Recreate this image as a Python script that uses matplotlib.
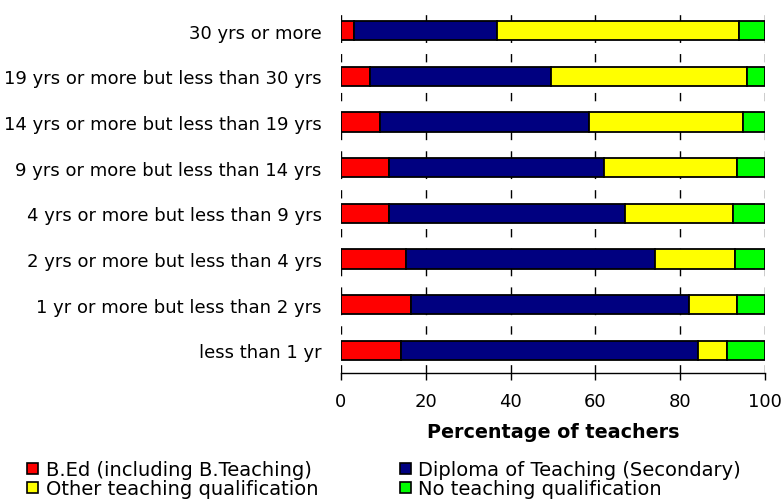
import numpy as np
import matplotlib.pyplot as plt
from matplotlib.patches import Patch

categories = [
    "less than 1 yr",
    "1 yr or more but less than 2 yrs",
    "2 yrs or more but less than 4 yrs",
    "4 yrs or more but less than 9 yrs",
    "9 yrs or more but less than 14 yrs",
    "14 yrs or more but less than 19 yrs",
    "19 yrs or more but less than 30 yrs",
    "30 yrs or more",
]
bed = [14.2, 16.4, 15.4, 11.4, 11.4, 9.3, 6.9, 3.0]
diploma = [69.9, 65.6, 58.6, 55.6, 50.7, 49.2, 42.7, 33.7]
other = [7.0, 11.3, 18.9, 25.5, 31.3, 36.2, 46.1, 57.1]
none_q = [8.9, 6.7, 7.1, 7.5, 6.6, 5.3, 4.3, 6.2]

series = ["B.Ed (including B.Teaching)", "Diploma of Teaching (Secondary)",
          "Other teaching qualification", "No teaching qualification"]
colors = ["#ff0000", "#000080", "#ffff00", "#00ff00"]
xticks = [0, 20, 40, 60, 80, 100]

plt.rcParams['font.family'] = ['DejaVu Sans']

fig = plt.figure(figsize=(7.83, 5.02), dpi=100)
ax = fig.add_axes([341 / 783, 1 - 374 / 502, 424 / 783, 365 / 502])

y = np.arange(len(categories))
left = np.zeros(len(categories))
for vals, c in zip([bed, diploma, other, none_q], colors):
    ax.barh(y, vals, left=left, height=0.42, color=c, edgecolor="black",
            linewidth=1.3, zorder=3)
    left += np.array(vals)

ax.set_xlim(0, 100)
ax.set_ylim(-0.5, len(categories) - 0.5)
ax.set_yticks(y)
ax.set_yticklabels(categories, fontsize=13)
ax.tick_params(axis="y", length=0, pad=14)
ax.set_xticks(xticks)
ax.set_xticklabels([str(t) for t in xticks], fontsize=13)
ax.tick_params(axis="x", length=5, width=1, pad=9)
ax.xaxis.grid(True, color="black", linestyle=(0, (6, 8)), linewidth=1, zorder=0)
for s in ["top", "right", "left"]:
    ax.spines[s].set_visible(False)
ax.spines["bottom"].set_linewidth(1)
ax.set_xlabel("Percentage of teachers", fontsize=13.8, fontweight="bold", labelpad=8)

handles = [Patch(facecolor=c, edgecolor="black", linewidth=1.2) for c in colors]
order = [0, 2, 1, 3]
fig.legend([handles[i] for i in order], [series[i] for i in order],
           loc="lower left", bbox_to_anchor=(0.02, -0.018), ncol=2, frameon=False,
           fontsize=14, handlelength=0.55, handleheight=0.55, handletextpad=0.4,
           labelspacing=0.0, columnspacing=4.2, borderaxespad=0.2)

fig.savefig("out.png", dpi=100)
